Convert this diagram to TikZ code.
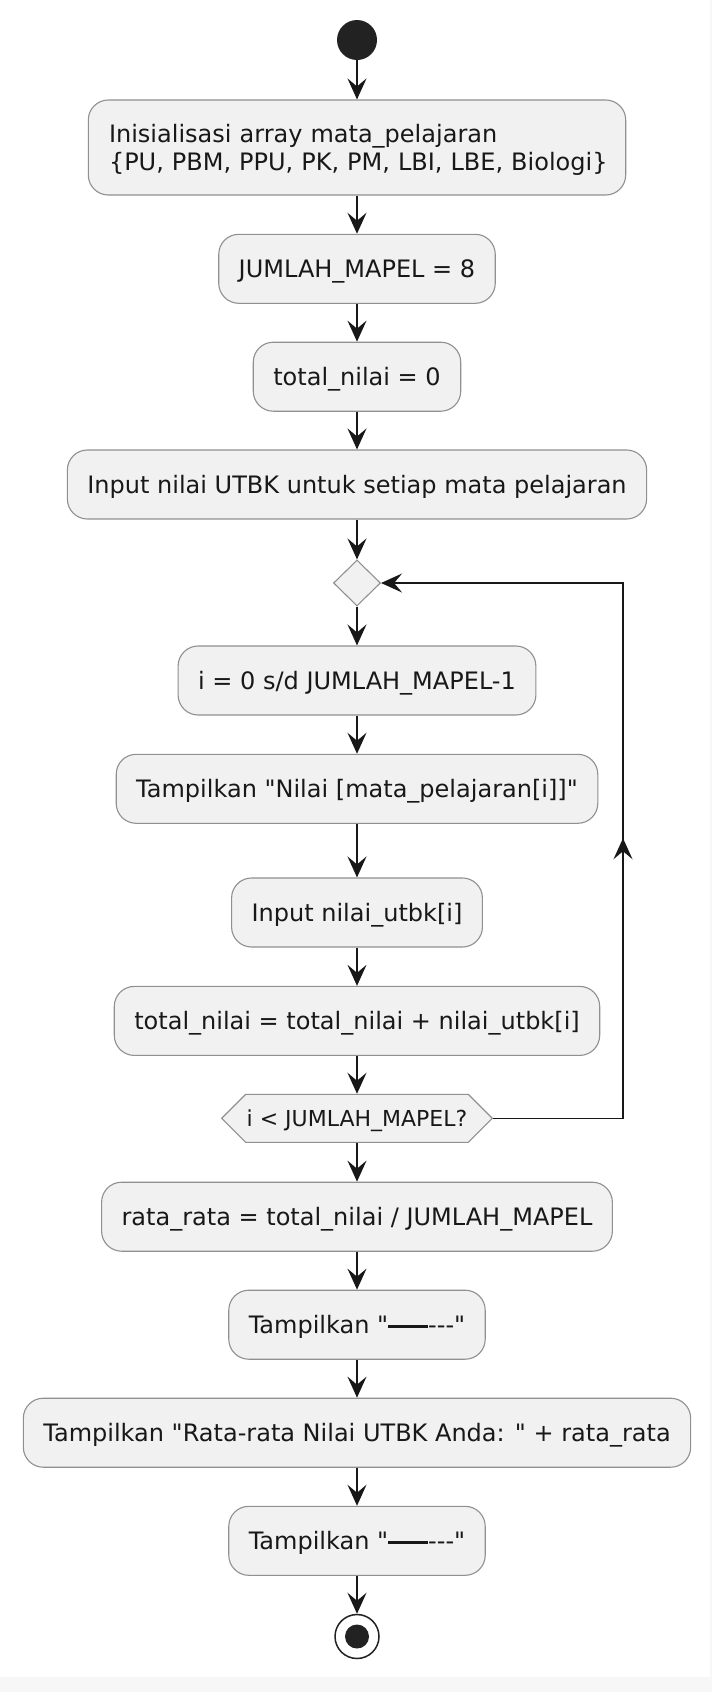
\documentclass[tikz,border=0pt]{standalone}
\usepackage{fontspec}
\newfontfamily\umlfont{DejaVu Sans}
\usetikzlibrary{arrows.meta,shapes.symbols,shapes.geometric,decorations.markings}
\definecolor{boxfill}{HTML}{F1F1F1}
\definecolor{boxline}{HTML}{909090}
\definecolor{ink}{HTML}{181818}
\definecolor{dot}{HTML}{222222}
\definecolor{strip}{HTML}{F7F7F7}
\newcommand\strk{\rule[5.2pt]{40pt}{3pt}}
\tikzset{
  act/.style={draw=boxline, fill=boxfill, line width=1.1pt, rounded corners=20pt,
    minimum height=69pt, inner xsep=20pt, inner ysep=0pt,
    text height=17.5pt, text depth=0pt, text=ink,
    font=\umlfont\fontsize{24}{28.4}\selectfont},
  tip/.style={-{Stealth[length=21pt,width=19pt,inset=8pt]}},
  flow/.style={draw=ink, line width=1.5pt, tip},
  hexa/.style={signal, signal to=west and east, signal pointer angle=90,
    draw=boxline, fill=boxfill, line width=1.1pt, inner xsep=1pt, inner ysep=0pt,
    minimum height=48pt, text height=16pt, text depth=0pt, text=ink,
    font=\umlfont\fontsize{22}{26}\selectfont},
  merge/.style={diamond, draw=boxline, fill=boxfill, line width=1.1pt,
    minimum width=47pt, minimum height=46pt, inner sep=0pt},
  startdot/.style={circle, fill=dot, minimum size=40pt, inner sep=0pt},
  endring/.style={circle, draw=dot, line width=1.5pt, fill=white, minimum size=44pt, inner sep=0pt},
  enddot/.style={circle, fill=dot, minimum size=24pt, inner sep=0pt}
}
\begin{document}
\begin{tikzpicture}[x=1pt,y=-1pt]
\fill[strip] (0,0) rectangle (712,1692);
\fill[white] (0,0) rectangle (710,1677);
\useasboundingbox (0,0) rectangle (712,1692);

\node[startdot] (start) at (357,40) {};
\node[act, text width=496pt, align=left, inner xsep=20.7pt, minimum height=95pt, text depth=28.4pt] (b1) at (357,147.5)
  {\mbox{Inisialisasi array mata\_pelajaran}\\\mbox{\{PU, PBM, PPU, PK, PM, LBI, LBE, Biologi\}}};
\node[act] (b2) at (357,268.8) {JUMLAH\_MAPEL = 8};
\node[act] (b3) at (357,376.7) {total\_nilai = 0};
\node[act] (b4) at (357,484.5) {Input nilai UTBK untuk setiap mata pelajaran};
\node[merge] (dia) at (357,583) {};
\node[act] (b5) at (357,680.5) {i = 0 s/d JUMLAH\_MAPEL-1};
\node[act] (b6) at (357,788.8) {Tampilkan "Nilai [mata\_pelajaran[i]]"};
\node[act] (b7) at (357,912.5) {Input nilai\_utbk[i]};
\node[act] (b8) at (357,1020.9) {total\_nilai = total\_nilai + nilai\_utbk[i]};
\node[hexa] (hex) at (357,1118.3) {i < JUMLAH\_MAPEL?};
\node[act] (b9) at (357,1216.7) {rata\_rata = total\_nilai / JUMLAH\_MAPEL};
\node[act] (b10) at (357,1324.7) {Tampilkan "\strk---"};
\node[act] (b11) at (357,1432.7) {Tampilkan "Rata-rata Nilai UTBK Anda: " + rata\_rata};
\node[act] (b12) at (357,1540.8) {Tampilkan "\strk---"};
\node[endring] (end) at (357,1636.5) {};
\node[enddot] (endin) at (end) {};

\foreach \a/\b in {start/b1,b1/b2,b2/b3,b3/b4,b4/dia,dia/b5,b5/b6,b6/b7,b7/b8,b8/hex,hex/b9,b9/b10,b10/b11,b11/b12,b12/end}
  \draw[flow] (\a.south) -- (\b.north);

\coordinate (lc) at (623,583);
\draw[flow, postaction={decorate},
  decoration={markings, mark=at position 410pt with {\arrow{Stealth[length=21pt,width=19pt,inset=8pt]}}}]
  (hex.east) -| (lc) -- (dia.east);
\end{tikzpicture}
\end{document}
